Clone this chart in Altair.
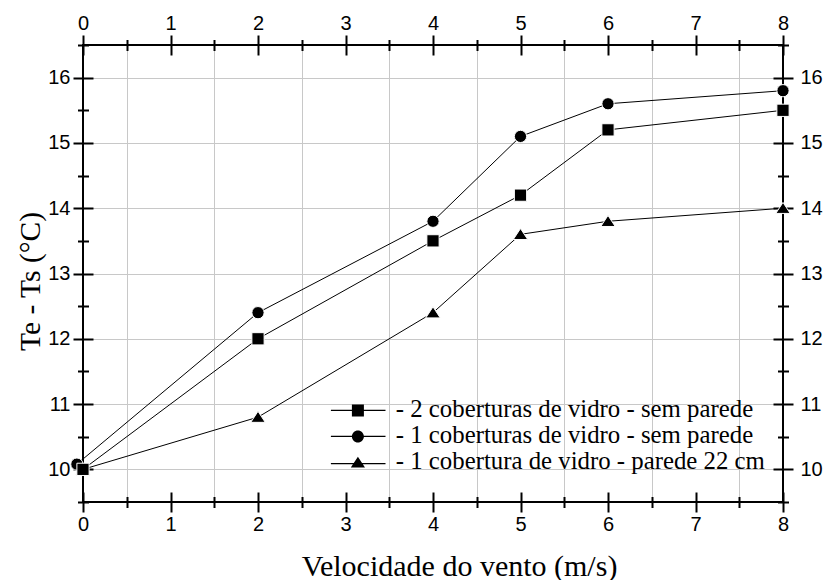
import altair as alt
import pandas as pd

# ---- data ----
series_names = [
    "- 2 coberturas de vidro - sem parede",
    "- 1 coberturas de vidro - sem parede",
    "- 1 cobertura de vidro - parede 22 cm",
]
x_square = [0, 2, 4, 5, 6, 8]
y_square = [10.0, 12.0, 13.5, 14.2, 15.2, 15.5]
x_circle = [-0.07, 2, 4, 5, 6, 8]
y_circle = [10.08, 12.4, 13.8, 15.1, 15.6, 15.8]
x_triangle = [0, 2, 4, 5, 6, 8]
y_triangle = [10.0, 10.8, 12.4, 13.6, 13.8, 14.0]

x_major = [0, 1, 2, 3, 4, 5, 6, 7, 8]
x_minor = [0.5, 1.5, 2.5, 3.5, 4.5, 5.5, 6.5, 7.5]
y_major = [10, 11, 12, 13, 14, 15, 16]
y_minor = [9.5, 10.5, 11.5, 12.5, 13.5, 14.5, 15.5, 16.5]
x_grid = [0.5, 1, 1.5, 2, 2.5, 3, 3.5, 4, 4.5, 5, 5.5, 6, 6.5, 7, 7.5]
y_grid = [10, 10.5, 11, 11.5, 12, 12.5, 13, 13.5, 14, 14.5, 15, 15.5, 16]

x_title = "Velocidade do vento (m/s)"
y_title = "Te - Ts (°C)"

# draw order: triangle first, square last (on top)
rows = []
for xs_, ys_, name in [(x_triangle, y_triangle, series_names[2]),
                       (x_circle, y_circle, series_names[1]),
                       (x_square, y_square, series_names[0])]:
    for a, b in zip(xs_, ys_):
        rows.append({"x": a, "y": b, "series": name})
df = pd.DataFrame(rows)

W, H = 700, 457
xs = alt.Scale(domain=[0, 8], nice=False, zero=False)
ys = alt.Scale(domain=[9.5, 16.5], nice=False, zero=False)

SANS = "Liberation Sans"
SERIF = "Liberation Serif"

TRI = "M0,-0.95L1.18,0.85H-1.18Z"


def ax(orient, values, **kw):
    base = dict(orient=orient, values=values, domain=False, grid=False,
                labelFont=SANS, labelFontSize=20, labelColor="black",
                tickColor="black", tickWidth=2, labelFlush=False,
                labelOverlap=False, title=None, format="d")
    base.update(kw)
    return alt.Axis(**base)


def carrier(x_axis, y_axis):
    return alt.Chart(df).mark_point(opacity=0).encode(
        x=alt.X("x:Q", scale=xs, axis=x_axis),
        y=alt.Y("y:Q", scale=ys, axis=y_axis),
    )


# grid layer (carried by the lines)
lines = alt.Chart(df).mark_line(color="black", strokeWidth=1).encode(
    x=alt.X("x:Q", scale=xs,
            axis=ax("bottom", x_grid, ticks=False, labels=False, grid=True,
                    gridColor="#c8c8c8", gridWidth=1, gridOpacity=1)),
    y=alt.Y("y:Q", scale=ys,
            axis=ax("left", y_grid, ticks=False, labels=False, grid=True,
                    gridColor="#c8c8c8", gridWidth=1, gridOpacity=1)),
    detail="series:N",
)

points = alt.Chart(df).mark_point(filled=True, color="black", stroke="white",
                                  strokeWidth=1, size=150, opacity=1).encode(
    x=alt.X("x:Q", scale=xs,
            axis=ax("bottom", x_major, tickSize=20, offset=-10, labelPadding=2,
                    title=x_title, titleFont=SERIF, titleFontSize=30,
                    titleFontWeight="normal", titleColor="black",
                    titleX=376, titleY=83, titleBaseline="alphabetic",
                    titleAlign="center")),
    y=alt.Y("y:Q", scale=ys,
            axis=ax("left", y_major, tickSize=20, offset=-10, labelPadding=3,
                    title=y_title, titleFont=SERIF, titleFontSize=29.5,
                    titleFontWeight="normal", titleColor="black",
                    titleX=-54, titleY=236, titleBaseline="alphabetic",
                    titleAlign="center", titleAngle=270)),
    shape=alt.Shape("series:N",
                    scale=alt.Scale(domain=series_names,
                                    range=["square", "circle", TRI]),
                    legend=None),
)

top_right_major = carrier(
    ax("top", x_major, tickSize=20, offset=-10, labelPadding=2),
    ax("right", y_major, tickSize=20, offset=-10, labelPadding=7),
)
bottom_left_minor = carrier(
    ax("bottom", x_minor, tickSize=11, offset=-5.5, labels=False),
    ax("left", y_minor, tickSize=11, offset=-5.5, labels=False),
)
top_right_minor = carrier(
    ax("top", x_minor, tickSize=11, offset=-5.5, labels=False),
    ax("right", y_minor, tickSize=11, offset=-5.5, labels=False),
)

# legend symbols: marker with a thin line through it (line drawn as filled strip)
legend_paths = [
    "M-1,-1H1V1H-1Z"
    "M-4.5,-0.09H-1V0.09H-4.5Z"
    "M1,-0.09H4.6V0.09H1Z",
    "M1,0A1,1,0,1,1,-1,0A1,1,0,1,1,1,0Z"
    "M-4.5,-0.09H-0.98V0.09H-4.5Z"
    "M0.98,-0.09H4.6V0.09H0.98Z",
    TRI +
    "M-4.5,0.11H-0.6V0.29H-4.5Z"
    "M0.6,0.11H4.6V0.29H0.6Z",
]
legend_layer = alt.Chart(df).mark_point(
    filled=True, fill="black", size=144
).encode(
    x=alt.X("x:Q", scale=xs, axis=None),
    y=alt.Y("y:Q", scale=ys, axis=None),
    shape=alt.Shape(
        "series:N",
        scale=alt.Scale(domain=series_names, range=legend_paths),
        legend=alt.Legend(
            orient="none", legendX=262.5, legendY=353, title=None,
            labelFont=SERIF, labelFontSize=24.8, labelColor="black",
            labelOffset=25.5, labelLimit=600, rowPadding=0, padding=0,
            symbolSize=144, symbolFillColor="black",
            symbolStrokeWidth=0, symbolOpacity=1,
        ),
    ),
).transform_filter("false")

chart = alt.layer(
    lines, points, top_right_major, bottom_left_minor, top_right_minor,
    legend_layer,
).resolve_axis(x="independent", y="independent").resolve_scale(
    shape="independent"
).properties(
    width=W, height=H,
    autosize=alt.AutoSizeParams(type="none"),
    padding={"left": 83, "top": 45, "right": 45, "bottom": 78},
    background="white",
).configure_view(stroke="black", strokeWidth=2)

chart.save("out.html", embed_options={"renderer": "svg", "actions": False})
